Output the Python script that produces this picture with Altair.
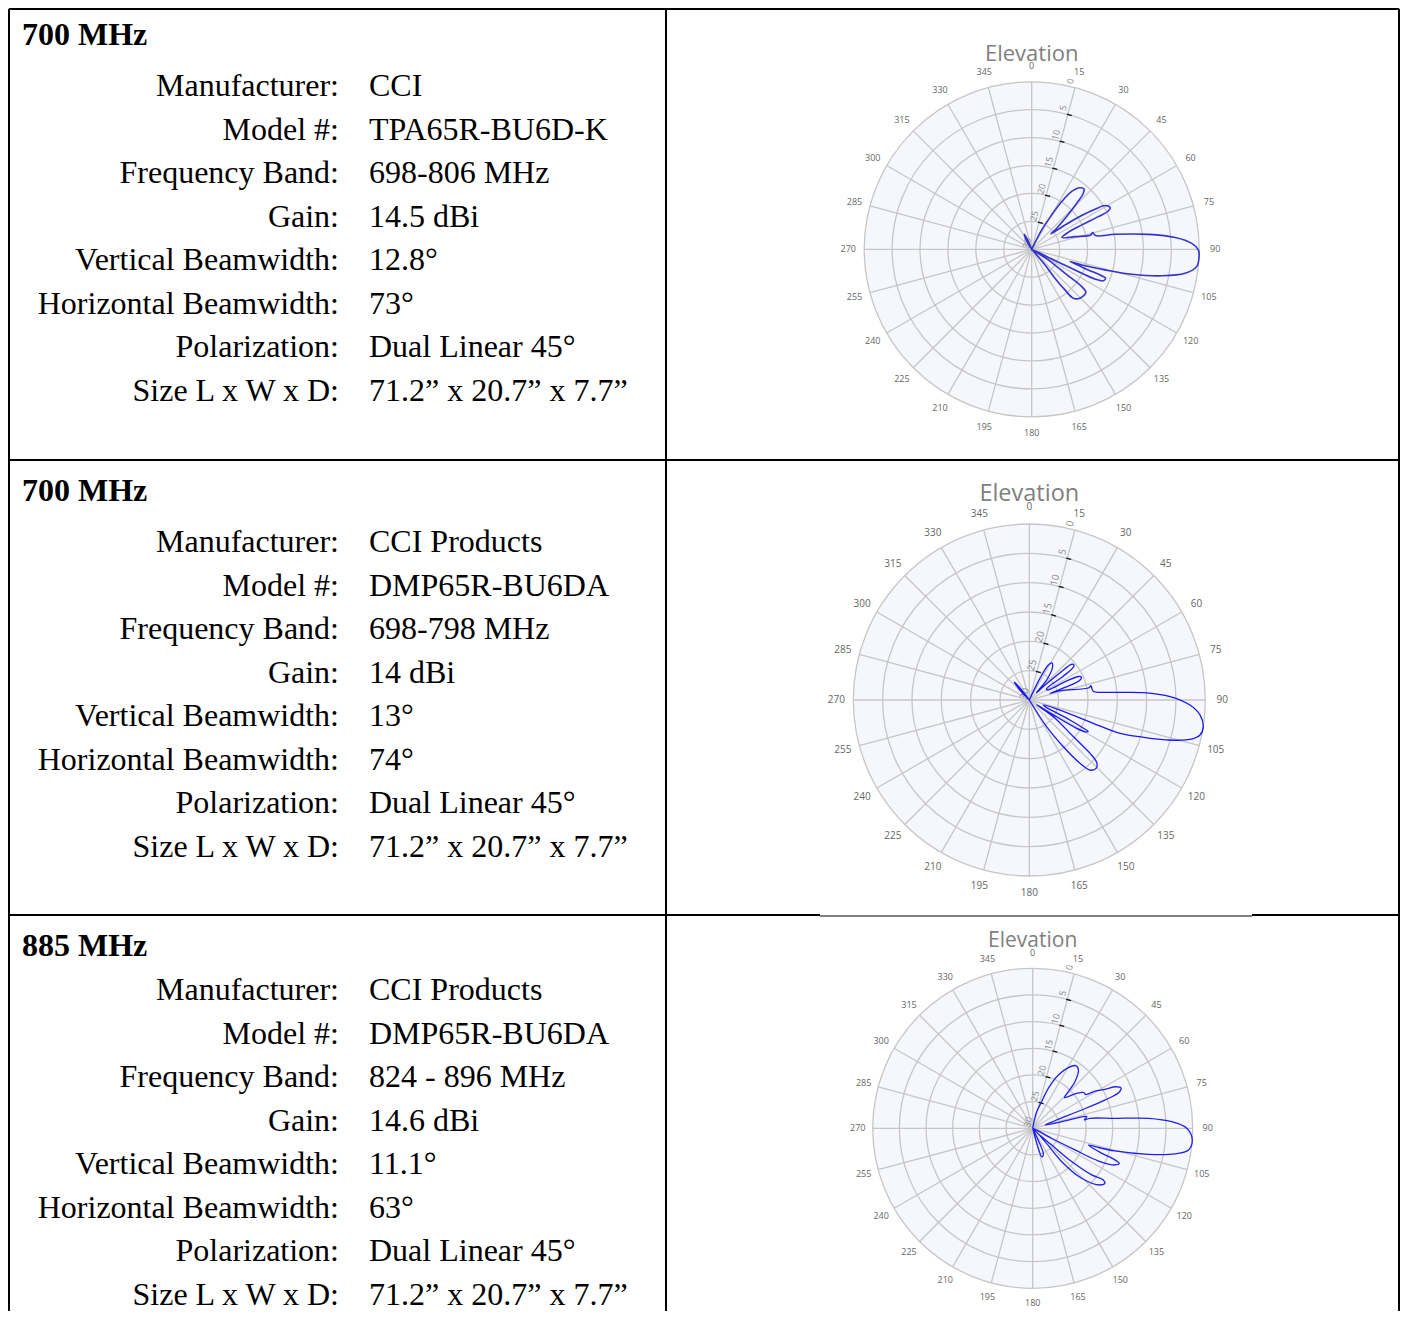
import math
import altair as alt
import pandas as pd

# ---------------- table text ----------------
HEADERS = ["700 MHz", "700 MHz", "885 MHz"]
FIELD_NAMES = ["Manufacturer:", "Model #:", "Frequency Band:", "Gain:",
               "Vertical Beamwidth:", "Horizontal Beamwidth:", "Polarization:",
               "Size L x W x D:"]
VALUES_ROW1 = ["CCI", "TPA65R-BU6D-K", "698-806 MHz", "14.5 dBi", "12.8°", "73°",
               "Dual Linear 45°", "71.2” x 20.7” x 7.7”"]
VALUES_ROW2 = ["CCI Products", "DMP65R-BU6DA", "698-798 MHz", "14 dBi", "13°", "74°",
               "Dual Linear 45°", "71.2” x 20.7” x 7.7”"]
VALUES_ROW3 = ["CCI Products", "DMP65R-BU6DA", "824 - 896 MHz", "14.6 dBi", "11.1°", "63°",
               "Dual Linear 45°", "71.2” x 20.7” x 7.7”"]
ROW_VALUES = [VALUES_ROW1, VALUES_ROW2, VALUES_ROW3]

# ---------------- polar grid ----------------
PLOT_TITLE = "Elevation"
ANGLE_TICKS = list(range(0, 360, 15))
ANGLE_LABELS = [str(a) for a in ANGLE_TICKS]
RING_DB = [-25, -20, -15, -10, -5, 0]
RADIAL_DB = [0, -5, -10, -15, -20, -25, -30]
RADIAL_TEXT = ["0", "5", "10", "15", "20", "25", "30"]
TICK_DB = [-5, -10, -15, -20, -25]
DB_FLOOR = -30
RADIAL_AXIS_ANGLE = 15

# ---------------- elevation patterns (angle deg clockwise from top, dB) ----------------
P1_ANGLE = [318, 330, 334, 337, 341,
            22, 27.3, 30.2, 32.2, 34.7, 38.1, 40.9, 42.7, 44.4, 47.1, 50.4, 51.5,
            53.9, 56.0, 57.7, 59.2, 62.0, 63.4, 63.9, 64.1, 65.1, 68.7,
            73.7, 76.4, 74.6, 77.9, 79.8, 82.7, 85.3, 87.9, 90.2, 92.8, 96.0, 98.9,
            101.5, 104.0, 105.7, 107.4, 107.8,
            110.0, 110.6, 111.4, 113.8, 115.1, 115.5, 116.0, 119.0,
            122.6, 125.8, 126.7, 128.5, 135.4, 139.6, 140.7, 141.2, 139.6, 144.0]
P1_DB = [-30, -28.0, -27.0, -28.3, -30,
         -30, -26.1, -22.9, -19.9, -17.4, -16.0, -15.7, -16.4, -18.5, -21.8, -24.6, -25.6,
         -22.6, -19.2, -16.6, -14.7, -14.1, -14.6, -16.7, -20.0, -22.8, -24.2,
         -21.9, -19.1, -18.7, -18.3, -14.8, -8.9, -4.2, -1.3, -0.15, 0.0, -0.3, -2.2,
         -6.2, -11.5, -16.4, -20.6, -22.8,
         -19.2, -16.9, -15.8, -16.0, -17.5, -21.4, -25.4, -30,
         -26.5, -22.6, -18.8, -17.6, -17.7, -18.5, -20.6, -23.3, -26.3, -30]

P2_ANGLE = [312, 317, 320.2, 322.5, 326,
            22, 26.2, 28.5, 31.3, 35.5, 40.9, 44.5,
            46.5, 48.5, 49.6, 51.5, 53.3, 55.0, 57.0,
            61.0, 63.0, 64.5, 66.2, 67.9, 70.0, 72.1,
            73.1, 78.4, 76.9, 82.2, 84.6, 86.3, 88.6, 91.8, 95.0, 98.7, 101.6, 103.8,
            106.2, 108.1, 110.2, 110.0, 108.1, 109.7,
            113.0, 116.2, 117.5, 118.2, 119.5, 120.9, 122.0, 123.0,
            124.8, 129.8, 131.3, 132.9, 135.7, 139.1, 141.3, 143.9, 147.0, 151.0]
P2_DB = [-30, -27.5, -26.0, -27.5, -30,
         -30, -25.9, -23.2, -22.6, -23.2, -25.5, -28.3,
         -26.5, -23.0, -20.6, -20.3, -20.6, -23.0, -26.5,
         -26.5, -23.0, -20.7, -20.3, -20.5, -22.0, -26.3,
         -24.5, -19.6, -19.2, -19.0, -16.2, -10.5, -6.0, -2.6, -0.8, 0.0, -0.3, -1.8,
         -5.6, -9.5, -13.5, -18.4, -24.5, -27.5,
         -27.0, -22.3, -19.6, -18.6, -19.0, -20.6, -25.2, -28.5,
         -25.0, -20.2, -16.2, -14.3, -13.7, -14.2, -16.2, -20.2, -24.6, -30]

P3_ANGLE = [5, 11, 13.5, 17.4, 21.4, 25.7, 30.4, 34.5, 38.1, 42.2, 44.2, 45.9,
            51.5, 55.0, 57.6, 59.1, 61.7, 63.4, 65.6, 67.4, 68.6, 69.5, 71.0, 75.0,
            77.2, 77.0, 77.8, 80.8, 80.1, 83.1, 85.1, 87.3, 90.0, 94.2, 97.9, 100.2,
            102.7, 105.4, 106.4, 106.7,
            109.9, 111.0, 112.1, 114.0, 116.4, 117.1, 117.8, 121.0,
            131.3, 130.5, 128.3, 126.2, 127.3, 130.1, 135.6, 139.0, 137.2, 145.0,
            155.0, 157.7, 162.4, 164.2, 166.0]
P3_DB = [-30, -28.4, -26.8, -25.4, -21.9, -18.9, -16.8, -15.75, -16.1, -18.2, -20.4, -21.7,
         -19.5, -18.3, -18.2, -16.4, -14.6, -12.6, -11.8, -12.5, -15.4, -20.2, -25.5, -27.6,
         -23.8, -20.3, -19.6, -20.2, -19.1, -14.5, -8.2, -3.9, -1.1, 0.0, -0.5, -2.9,
         -7.8, -14.0, -17.8, -19.1,
         -16.2, -13.5, -12.5, -13.1, -16.2, -21.1, -26.0, -30,
         -25.3, -20.4, -15.9, -13.6, -13.0, -13.5, -16.9, -21.7, -26.6, -30,
         -28.5, -24.7, -24.4, -26.1, -30]

# ---------------- layout (page pixels) ----------------
CHART_W, CHART_H = 1392, 1303
XS = alt.Scale(domain=[8, 8 + CHART_W], nice=False, zero=False)
YS = alt.Scale(domain=[8, 8 + CHART_H], nice=False, zero=False, reverse=True)

HEADER_X, LABEL_RIGHT_X, VALUE_X = 22, 339, 369
HEADER_BASELINES = [45, 501, 956]
ROW_BASELINES = [96, 140, 183, 227, 270, 314, 357, 401]
ROW_OFFSETS = [0, 456, 904]

BORDER_X1 = [9, 9, 666, 1399, 9, 9, 1252, 820]
BORDER_Y1 = [9, 9, 9, 9, 460, 915, 915, 916]
BORDER_X2 = [1399, 9, 666, 1399, 1399, 820, 1399, 1252]
BORDER_Y2 = [9, 1311, 1311, 1311, 460, 915, 915, 916]
BORDER_W = [2, 2, 2, 2, 2, 2, 2, 1]

PLOTS = [
    dict(cx=1031.7, cy=249.3, R=167.5, title_y=60.5, title_size=22, lab_off=16,
         lab_size=9, color="#3434cc", lw=1.6),
    dict(cx=1029.3, cy=700.0, R=176.0, title_y=500.5, title_size=23.5, lab_off=17,
         lab_size=10, color="#1a1af2", lw=1.3),
    dict(cx=1032.7, cy=1128.3, R=160.0, title_y=947.0, title_size=21, lab_off=15,
         lab_size=9, color="#2020ee", lw=1.3),
]
PATTERNS = [(P1_ANGLE, P1_DB), (P2_ANGLE, P2_DB), (P3_ANGLE, P3_DB)]

GRID_COLOR = "#c6c6c6"
DISK_COLOR = "#f5f7fd"


def X(f):
    return alt.X(f"{f}:Q", scale=XS, axis=None)


def Y(f):
    return alt.Y(f"{f}:Q", scale=YS, axis=None)


def radius_expr(R, db_expr):
    return f"{R}*(max({db_expr},{DB_FLOOR})-({DB_FLOOR}))/({-DB_FLOOR})"


def polar_layers(cfg, angles, dbs):
    cx, cy, R = cfg["cx"], cfg["cy"], cfg["R"]
    layers = []
    # background disk
    disk = alt.Chart(pd.DataFrame({"db": [0]})).transform_calculate(
        r=radius_expr(R, "datum.db"), cx=f"{cx}", cy=f"{cy}"
    ).mark_arc(theta=0, theta2=2 * math.pi, fill=DISK_COLOR, strokeWidth=0).encode(
        x=X("cx"), y=Y("cy"), radius=alt.Radius("r:Q", scale=None, stack=False))
    layers.append(disk)
    # rings
    rings = alt.Chart(pd.DataFrame({"db": RING_DB})).transform_calculate(
        r=radius_expr(R, "datum.db"), cx=f"{cx}", cy=f"{cy}"
    ).mark_arc(theta=0, theta2=2 * math.pi, filled=False, stroke=GRID_COLOR,
               strokeWidth=1.3).encode(
        x=X("cx"), y=Y("cy"), radius=alt.Radius("r:Q", scale=None, stack=False))
    layers.append(rings)
    # spokes
    spokes = alt.Chart(pd.DataFrame({"ang": ANGLE_TICKS})).transform_calculate(
        cx=f"{cx}", cy=f"{cy}",
        ex=f"{cx}+{R}*sin(datum.ang*PI/180)",
        ey=f"{cy}-{R}*cos(datum.ang*PI/180)",
    ).mark_rule(color=GRID_COLOR, strokeWidth=1.3).encode(
        x=X("cx"), y=Y("cy"), x2="ex:Q", y2="ey:Q")
    layers.append(spokes)
    # ticks on the radial axis
    a = RADIAL_AXIS_ANGLE
    ticks = alt.Chart(pd.DataFrame({"db": TICK_DB})).transform_calculate(
        r=radius_expr(R, "datum.db"),
        sx=f"{cx}+datum.r*sin({a}*PI/180)-1*cos({a}*PI/180)",
        sy=f"{cy}-datum.r*cos({a}*PI/180)-1*sin({a}*PI/180)",
        tx=f"{cx}+datum.r*sin({a}*PI/180)+4*cos({a}*PI/180)",
        ty=f"{cy}-datum.r*cos({a}*PI/180)+4*sin({a}*PI/180)",
    ).mark_rule(color="#111111", strokeWidth=1.3).encode(
        x=X("sx"), y=Y("sy"), x2="tx:Q", y2="ty:Q")
    layers.append(ticks)
    # radial labels
    rlab = alt.Chart(pd.DataFrame({"db": RADIAL_DB, "t": RADIAL_TEXT})).transform_calculate(
        r=radius_expr(R, "datum.db"),
        lx=f"{cx}+(datum.r+5)*sin({a}*PI/180)-1*cos({a}*PI/180)",
        ly=f"{cy}-(datum.r+5)*cos({a}*PI/180)-1*sin({a}*PI/180)",
    ).mark_text(angle=360 - (90 - a), align="center", baseline="bottom",
                font="Open Sans", fontSize=cfg["lab_size"], color="#8a8a8a").encode(
        x=X("lx"), y=Y("ly"), text="t:N")
    layers.append(rlab)
    # pattern
    pat = alt.Chart(pd.DataFrame({"i": list(range(len(angles))), "ang": angles, "db": dbs})
                    ).transform_calculate(
        r=radius_expr(R, "datum.db"),
        px=f"{cx}+datum.r*sin(datum.ang*PI/180)",
        py=f"{cy}-datum.r*cos(datum.ang*PI/180)",
    ).mark_line(interpolate="catmull-rom", color=cfg["color"], strokeWidth=cfg["lw"]).encode(
        x=X("px"), y=Y("py"), order="i:Q")
    layers.append(pat)
    # angle labels
    alab = alt.Chart(pd.DataFrame({"ang": ANGLE_TICKS, "t": ANGLE_LABELS})).transform_calculate(
        lx=f"{cx}+{R + cfg['lab_off']}*sin(datum.ang*PI/180)",
        ly=f"{cy}-{R + cfg['lab_off']}*cos(datum.ang*PI/180)",
    ).mark_text(align="center", baseline="middle", font="Open Sans",
                fontSize=cfg["lab_size"], color="#666666").encode(
        x=X("lx"), y=Y("ly"), text="t:N")
    layers.append(alab)
    # title
    title = alt.Chart(pd.DataFrame({"t": [PLOT_TITLE]})).transform_calculate(
        tx=f"{cx}", ty=f"{cfg['title_y']}"
    ).mark_text(align="center", baseline="alphabetic", font="Open Sans",
                fontSize=cfg["title_size"], color="#808080").encode(
        x=X("tx"), y=Y("ty"), text="t:N")
    layers.append(title)
    return layers


# ---------------- table layers ----------------
hdr_df = pd.DataFrame({"t": HEADERS, "x": [HEADER_X] * 3, "y": HEADER_BASELINES})
headers = alt.Chart(hdr_df).mark_text(
    align="left", baseline="alphabetic", font="Liberation Serif", fontSize=32,
    fontWeight="bold", color="black").encode(x=X("x"), y=Y("y"), text="t:N")

lab_rows, val_rows = [], []
for k in range(3):
    for j, name in enumerate(FIELD_NAMES):
        yb = ROW_BASELINES[j] + ROW_OFFSETS[k]
        lab_rows.append({"t": name, "x": LABEL_RIGHT_X, "y": yb})
        val_rows.append({"t": ROW_VALUES[k][j], "x": VALUE_X, "y": yb})

labels = alt.Chart(pd.DataFrame(lab_rows)).mark_text(
    align="right", baseline="alphabetic", font="Liberation Serif", fontSize=32,
    color="black").encode(x=X("x"), y=Y("y"), text="t:N")
values = alt.Chart(pd.DataFrame(val_rows)).mark_text(
    align="left", baseline="alphabetic", font="Liberation Serif", fontSize=32,
    color="black").encode(x=X("x"), y=Y("y"), text="t:N")

borders = alt.Chart(pd.DataFrame({"x1": BORDER_X1, "y1": BORDER_Y1, "x2": BORDER_X2,
                                  "y2": BORDER_Y2, "w": BORDER_W})).mark_rule(
    color="black").encode(x=X("x1"), y=Y("y1"), x2="x2:Q", y2="y2:Q",
                          size=alt.Size("w:Q", scale=None, legend=None))

all_layers = []
for cfg, (angs, dbs) in zip(PLOTS, PATTERNS):
    all_layers += polar_layers(cfg, angs, dbs)
all_layers += [borders, headers, labels, values]

chart = alt.layer(*all_layers).properties(
    width=CHART_W, height=CHART_H, padding=0,
    autosize=alt.AutoSizeParams(type="none"),
).configure_view(stroke=None).configure(background="white")

chart.save("out.html", embed_options={"renderer": "svg", "actions": False})
